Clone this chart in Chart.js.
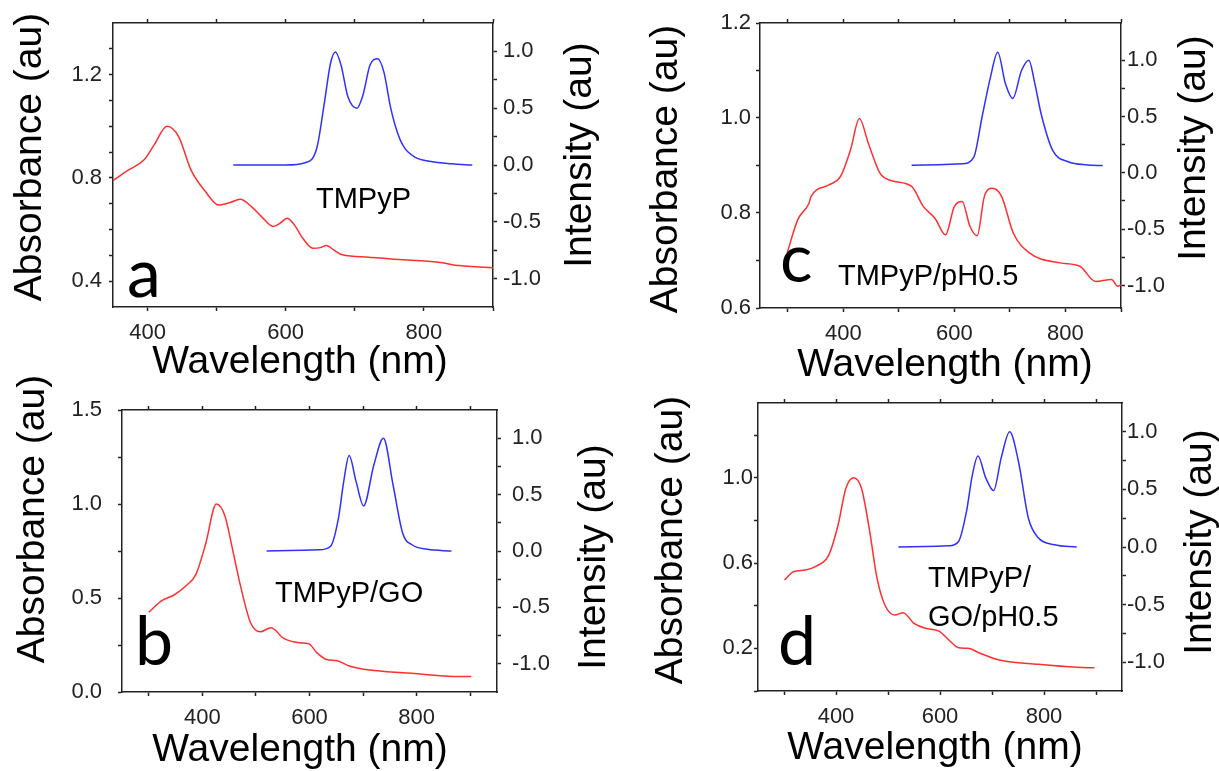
<!DOCTYPE html>
<html>
<head>
<meta charset="utf-8">
<script src="https://cdn.jsdelivr.net/npm/chart.js@4.4.1/dist/chart.umd.min.js"></script>
<style>
  body { margin: 0; background: #fff; }
  #wrap { position: relative; width: 1219px; height: 771px; }
  #wrap canvas { position: absolute; left: 0; top: 0; }
</style>
</head>
<body>
<div id="wrap">
  <canvas id="pa" width="1219" height="771"></canvas>
  <canvas id="pb" width="1219" height="771"></canvas>
  <canvas id="pc" width="1219" height="771"></canvas>
  <canvas id="pd" width="1219" height="771"></canvas>
</div>
<script>
// ---- data ----
// a: TMPyP
var wlAbsA = [350,372,395,410,428,445,463,483,503,520,534,550,565,582,592,602,612,625,639,650,659,670,682,720,752,790,827,845,855,880,900];
var absA   = [0.79,0.83,0.87,0.93,1.0,0.96,0.83,0.75,0.695,0.705,0.717,0.69,0.65,0.612,0.625,0.644,0.62,0.565,0.528,0.53,0.538,0.52,0.502,0.493,0.486,0.48,0.471,0.462,0.46,0.455,0.452];
var wlFluA = [524,600,628,645,656,665,672,680,690,703,712,722,733,742,752,762,772,787,810,840,870];
var fluA   = [0.0,0.0,0.02,0.15,0.55,0.9,0.995,0.88,0.6,0.5,0.62,0.88,0.935,0.82,0.5,0.28,0.15,0.07,0.03,0.01,0.0];

// b: TMPyP/GO
var wlAbsB = [300,325,347,369,388,406,426,442,457,472,490,508,528,552,581,599,614,632,650,676,712,785,858,902];
var absB   = [0.425,0.488,0.516,0.564,0.626,0.786,1.0,0.938,0.75,0.555,0.368,0.32,0.342,0.285,0.262,0.256,0.208,0.173,0.167,0.137,0.117,0.101,0.084,0.082];
var wlFluB = [520,617,639,654,664,674,687,701,720,738,756,774,792,820,865];
var fluB   = [0.0,0.01,0.04,0.29,0.62,0.846,0.615,0.40,0.76,1.0,0.585,0.157,0.053,0.015,0.0];

// c: TMPyP/pH0.5
var wlAbsC = [299,318,338,342,374,395,413,429,445,466,487,523,544,565,584,600,614,628,641,654,668,685,706,735,791,826,854,883,894,900];
var absC   = [0.716,0.786,0.82,0.835,0.859,0.877,0.933,0.999,0.947,0.884,0.868,0.856,0.814,0.789,0.754,0.814,0.824,0.772,0.752,0.835,0.852,0.835,0.758,0.716,0.695,0.688,0.656,0.66,0.646,0.649];
var wlFluC = [523,614,635,650,665,678,692,705,721,734,745,756,777,805,840,867];
var fluC   = [0.068,0.08,0.14,0.5,0.85,1.07,0.79,0.66,0.91,1.0,0.79,0.527,0.2,0.098,0.07,0.065];

// d: TMPyP/GO/pH0.5
var wlAbsD = [301,319,341,363,386,404,419,434,449,464,479,494,513,529,550,572,598,617,636,654,677,714,789,863,897];
var absD   = [0.52,0.56,0.567,0.586,0.637,0.778,0.95,1.0,0.95,0.76,0.528,0.403,0.356,0.367,0.317,0.294,0.281,0.239,0.203,0.2,0.177,0.145,0.125,0.111,0.109];
var wlFluD = [520,617,636,651,662,673,688,703,718,734,751,770,789,820,863];
var fluD   = [0.0,0.01,0.05,0.31,0.62,0.79,0.6,0.49,0.78,1.0,0.74,0.25,0.08,0.02,0.0];

// ---- ticks ----
var xTicksA = [400,500,600,700,800,900];
var xTicksBCD = [300,400,500,600,700,800,900];
var xLabels = [400,600,800];
var yTicksA = [0.4,0.5,0.6,0.7,0.8,0.9,1.0,1.1,1.2,1.3];
var yLabelsA = [0.4,0.8,1.2];
var yTicksB = [0,0.25,0.5,0.75,1.0,1.25,1.5];
var yLabelsB = [0,0.5,1.0,1.5];
var yTicksC = [0.6,0.7,0.8,0.9,1.0,1.1,1.2];
var yLabelsC = [0.6,0.8,1.0,1.2];
var yTicksD = [0,0.2,0.4,0.6,0.8,1.0,1.2];
var yLabelsD = [0.2,0.6,1.0];
var rTicks = [-1.0,-0.75,-0.5,-0.25,0,0.25,0.5,0.75,1.0];
var rLabels = [-1.0,-0.5,0,0.5,1.0];

var W = 1219, H = 771;
var INK = '#222';
var TITLE = '39px "Liberation Sans", Arial, sans-serif';
var INSET = '29px "Liberation Sans", Arial, sans-serif';
var LETTER = '68px Lato, "Liberation Sans", sans-serif';

function pts(xs, ys) {
    return xs.map(function (x, i) { return {x: x, y: ys[i]}; });
}
function has(list, v) {
    return list.some(function (l) { return Math.abs(l - v) < 1e-6; });
}

// draws axis titles, inset names and panel letters
var panelText = {
    id: 'panelText',
    afterDraw: function (chart, args, opts) {
        var ctx = chart.ctx;
        opts.items.forEach(function (it) {
            ctx.save();
            ctx.translate(it.x, it.y);
            if (it.rot) ctx.rotate(it.rot);
            ctx.font = it.font;
            ctx.fillStyle = '#000';
            ctx.textAlign = it.align || 'center';
            ctx.textBaseline = it.base || 'middle';
            ctx.fillText(it.text, 0, 0);
            ctx.restore();
        });
    }
};

function axisStyle() {
    return {
        grid: {display: true, drawOnChartArea: false, drawTicks: true, tickLength: 4, tickWidth: 1.5, color: INK, tickColor: INK},
        border: {display: true, color: INK, width: 1.5}
    };
}

function makePanel(id, p) {
    var L = p.area[0], T = p.area[1], R = p.area[2], B = p.area[3];
    var sx = axisStyle(), sx2 = axisStyle(), sy = axisStyle(), sy1 = axisStyle();
    new Chart(document.getElementById(id), {
        type: 'line',
        data: {
            datasets: [
                {data: pts(p.wlAbs, p.abs), xAxisID: 'x', yAxisID: 'y', borderColor: '#ff3030', borderWidth: 1.5,
                 pointRadius: 0, cubicInterpolationMode: 'monotone'},
                {data: pts(p.wlFlu, p.flu), xAxisID: 'x', yAxisID: 'y1', borderColor: '#3030ff', borderWidth: 1.5,
                 pointRadius: 0, cubicInterpolationMode: 'monotone'}
            ]
        },
        options: {
            responsive: false,
            animation: false,
            layout: {autoPadding: false, padding: {left: L - 90, right: W - R - 90, top: T - 6, bottom: H - B - 50}},
            plugins: {legend: {display: false}, tooltip: {enabled: false}, panelText: {items: p.texts}},
            scales: {
                x: {type: 'linear', position: 'bottom', min: p.xr[0], max: p.xr[1],
                    afterBuildTicks: function (s) { s.ticks = p.xTicks.map(function (v) { return {value: v}; }); },
                    afterFit: function (s) { s.height = 50; },
                    ticks: {autoSkip: false, maxRotation: 0, padding: 9, color: INK,
                            font: {family: '"Liberation Sans", Arial', size: 22},
                            callback: function (v) { return has(xLabels, v) ? String(v) : ''; }},
                    grid: sx.grid, border: sx.border},
                x2: {type: 'linear', position: 'top', min: p.xr[0], max: p.xr[1],
                    afterBuildTicks: function (s) { s.ticks = p.xTicks.map(function (v) { return {value: v}; }); },
                    afterFit: function (s) { s.height = 6; },
                    ticks: {display: false},
                    grid: sx2.grid, border: sx2.border},
                y: {type: 'linear', position: 'left', min: p.yr[0], max: p.yr[1],
                    afterBuildTicks: function (s) { s.ticks = p.yTicks.map(function (v) { return {value: v}; }); },
                    afterFit: function (s) { s.width = 90; },
                    ticks: {autoSkip: false, padding: p.lpad, color: INK,
                            font: {family: '"Liberation Sans", Arial', size: 22},
                            callback: function (v) { return has(p.yLabels, v) ? v.toFixed(1) : ''; }},
                    grid: sy.grid, border: sy.border},
                y1: {type: 'linear', position: 'right', min: p.y1r[0], max: p.y1r[1],
                    afterBuildTicks: function (s) { s.ticks = rTicks.map(function (v) { return {value: v}; }); },
                    afterFit: function (s) { s.width = 90; },
                    ticks: {autoSkip: false, padding: p.rpad, color: INK,
                            font: {family: '"Liberation Sans", Arial', size: 22},
                            callback: function (v) { return has(rLabels, v) ? v.toFixed(1) : ''; }},
                    grid: sy1.grid, border: sy1.border}
            }
        },
        plugins: [panelText]
    });
}

var UP = -Math.PI / 2;

makePanel('pa', {
    area: [113, 23, 493, 307], xr: [350, 900], yr: [0.3, 1.4], y1r: [-1.25, 1.25],
    xTicks: xTicksA, yTicks: yTicksA, yLabels: yLabelsA, lpad: 7, rpad: 6,
    wlAbs: wlAbsA, abs: absA, wlFlu: wlFluA, flu: fluA,
    texts: [
        {text: 'Absorbance (au)', x: 30, y: 157, rot: UP, font: TITLE},
        {text: 'Wavelength (nm)', x: 300, y: 362, font: TITLE},
        {text: 'Intensity (au)', x: 580, y: 155, rot: UP, font: TITLE},
        {text: 'TMPyP', x: 316, y: 208, align: 'left', base: 'alphabetic', font: INSET},
        {text: 'a', x: 127, y: 297, align: 'left', base: 'alphabetic', font: LETTER}
    ]
});

makePanel('pc', {
    area: [760, 23, 1121, 308], xr: [250, 900], yr: [0.6, 1.2], y1r: [-1.2, 1.33],
    xTicks: xTicksBCD, yTicks: yTicksC, yLabels: yLabelsC, lpad: 5, rpad: 2,
    wlAbs: wlAbsC, abs: absC, wlFlu: wlFluC, flu: fluC,
    texts: [
        {text: 'Absorbance (au)', x: 666, y: 169, rot: UP, font: TITLE},
        {text: 'Wavelength (nm)', x: 945, y: 365, font: TITLE},
        {text: 'Intensity (au)', x: 1194, y: 148, rot: UP, font: TITLE},
        {text: 'TMPyP/pH0.5', x: 838, y: 285, align: 'left', base: 'alphabetic', font: INSET},
        {text: 'c', x: 780, y: 282, align: 'left', base: 'alphabetic', font: LETTER}
    ]
});

makePanel('pb', {
    area: [122, 410, 497, 692], xr: [250, 950], yr: [0, 1.5], y1r: [-1.25, 1.25],
    xTicks: xTicksBCD, yTicks: yTicksB, yLabels: yLabelsB, lpad: 16, rpad: 11,
    wlAbs: wlAbsB, abs: absB, wlFlu: wlFluB, flu: fluB,
    texts: [
        {text: 'Absorbance (au)', x: 33, y: 519, rot: UP, font: TITLE},
        {text: 'Wavelength (nm)', x: 300, y: 750, font: TITLE},
        {text: 'Intensity (au)', x: 594, y: 557, rot: UP, font: TITLE},
        {text: 'TMPyP/GO', x: 275, y: 602, align: 'left', base: 'alphabetic', font: INSET},
        {text: 'b', x: 135, y: 665, align: 'left', base: 'alphabetic', font: LETTER}
    ]
});

makePanel('pd', {
    area: [758, 403, 1122, 691], xr: [250, 950], yr: [0, 1.35], y1r: [-1.25, 1.25],
    xTicks: xTicksBCD, yTicks: yTicksD, yLabels: yLabelsD, lpad: 1, rpad: 1,
    wlAbs: wlAbsD, abs: absD, wlFlu: wlFluD, flu: fluD,
    texts: [
        {text: 'Absorbance (au)', x: 671, y: 540, rot: UP, font: TITLE},
        {text: 'Wavelength (nm)', x: 935, y: 748, font: TITLE},
        {text: 'Intensity (au)', x: 1200, y: 542, rot: UP, font: TITLE},
        {text: 'TMPyP/', x: 928, y: 587, align: 'left', base: 'alphabetic', font: INSET},
        {text: 'GO/pH0.5', x: 928, y: 626, align: 'left', base: 'alphabetic', font: INSET},
        {text: 'd', x: 778, y: 665, align: 'left', base: 'alphabetic', font: LETTER}
    ]
});
</script>
</body>
</html>
